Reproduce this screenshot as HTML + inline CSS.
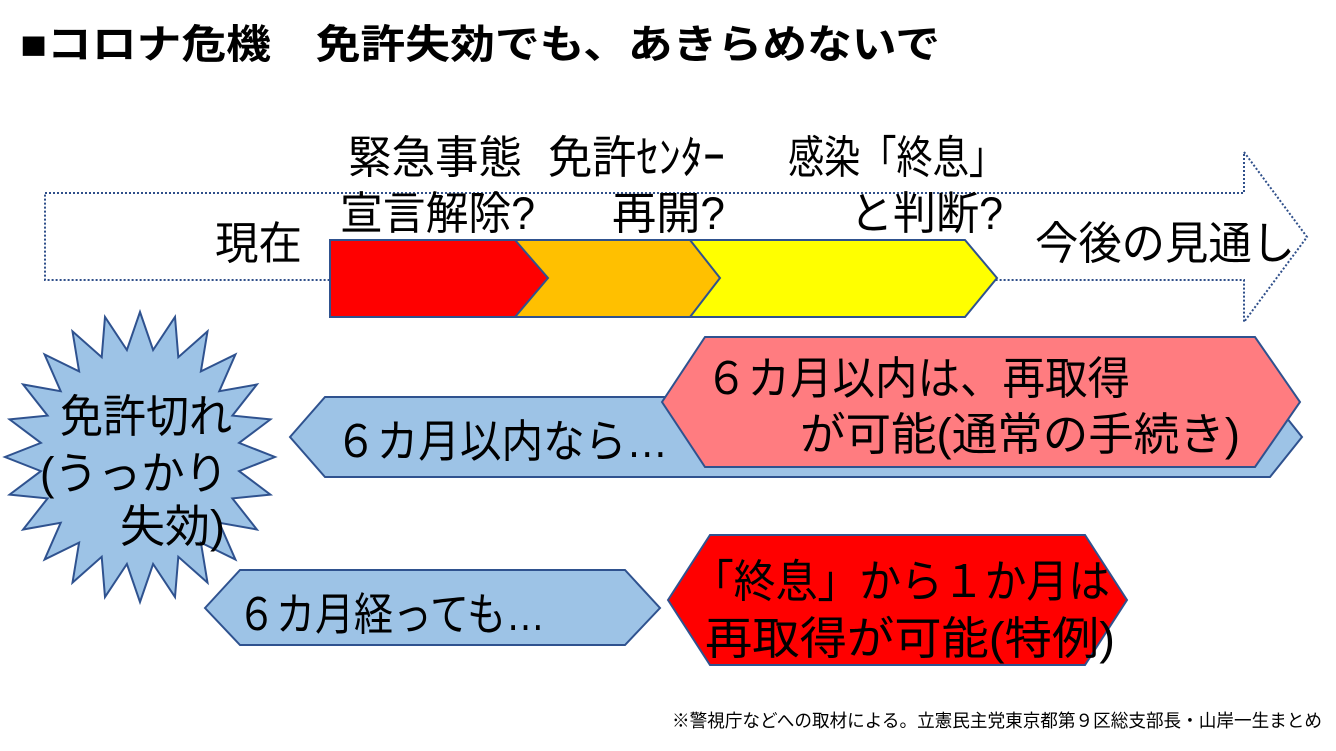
<!DOCTYPE html>
<html><head><meta charset="utf-8"><style>
html,body{margin:0;padding:0;background:#fff;}
svg{display:block;}
text{font-family:"Liberation Sans","Noto Sans CJK JP",sans-serif;fill:#000;}
</style></head><body>
<svg width="1336" height="751" viewBox="0 0 1336 751" xmlns="http://www.w3.org/2000/svg">
<rect width="1336" height="751" fill="#fff"/>
<text x="20" y="58" font-size="40" font-weight="bold" textLength="920" lengthAdjust="spacingAndGlyphs">■コロナ危機　免許失効でも、あきらめないで</text>

<polygon points="45,193 1244,193 1244,152 1307,237 1244,322 1244,280 45,280" fill="#fff" stroke="#2f4f8a" stroke-width="2" stroke-dasharray="2,2"/>

<polygon points="690,240 965,240 997,278 965,317 690,317 718,278" fill="#ffff00" stroke="#2f528f" stroke-width="2"/>
<polygon points="515,240 690,240 720,278 690,317 515,317 545,278" fill="#ffc000" stroke="#2f528f" stroke-width="2"/>
<polygon points="330,240 515,240 548,278 515,317 330,317" fill="#ff0000" stroke="#2f528f" stroke-width="2"/>

<text x="348" y="173" font-size="45" textLength="174" lengthAdjust="spacingAndGlyphs">緊急事態</text>
<text x="340" y="229" font-size="45" textLength="195" lengthAdjust="spacingAndGlyphs">宣言解除?</text>
<text x="548" y="173" font-size="45" textLength="177" lengthAdjust="spacingAndGlyphs">免許ｾﾝﾀｰ</text>
<text x="612" y="229" font-size="45" textLength="113" lengthAdjust="spacingAndGlyphs">再開?</text>
<text x="788" y="173" font-size="45" textLength="217" lengthAdjust="spacingAndGlyphs">感染「終息」</text>
<text x="850" y="229" font-size="45" textLength="153" lengthAdjust="spacingAndGlyphs">と判断?</text>
<text x="215" y="259" font-size="45" textLength="87" lengthAdjust="spacingAndGlyphs">現在</text>
<text x="1035" y="259" font-size="45" textLength="260" lengthAdjust="spacingAndGlyphs">今後の見通し</text>

<polygon points="290,437 325,397 1270,397 1302,437 1270,477 325,477" fill="#9dc3e6" stroke="#2f528f" stroke-width="2"/>
<polygon points="662,402 705,337 1255,337 1300,402 1255,467 705,467" fill="#ff7c80" stroke="#2f528f" stroke-width="2"/>
<text x="335" y="457" font-size="45" textLength="333" lengthAdjust="spacingAndGlyphs">６カ月以内なら…</text>
<text x="705" y="394" font-size="45" textLength="425" lengthAdjust="spacingAndGlyphs">６カ月以内は、再取得</text>
<text x="800" y="450" font-size="45" textLength="440" lengthAdjust="spacingAndGlyphs">が可能(通常の手続き)</text>

<polygon fill="#9dc3e6" stroke="#2f528f" stroke-width="2" points="275,457 239.1,471.1 270.4,494.6 232.4,498.4 256.9,529.5 219.3,522.8 235.4,559.5 200.9,542.6 207.5,582.6 178.3,556.8 175,597.1 153.1,564 140,602 126.9,564 105,597.1 101.7,556.8 72.5,582.6 79.1,542.6 44.6,559.5 60.7,522.8 23.1,529.5 47.6,498.4 9.6,494.6 40.9,471.1 5,457 40.9,442.9 9.6,419.4 47.6,415.6 23.1,384.5 60.7,391.2 44.6,354.5 79.1,371.4 72.5,331.4 101.7,357.2 105,316.9 126.9,350 140,312 153.1,350 175,316.9 178.3,357.2 207.5,331.4 200.9,371.4 235.4,354.5 219.3,391.2 256.9,384.5 232.4,415.6 270.4,419.4 239.1,442.9"/>
<text x="60" y="432" font-size="45" textLength="172" lengthAdjust="spacingAndGlyphs">免許切れ</text>
<text x="40" y="489" font-size="45" textLength="188" lengthAdjust="spacingAndGlyphs">(うっかり</text>
<text x="120" y="542" font-size="45" textLength="105" lengthAdjust="spacingAndGlyphs">失効)</text>

<polygon points="205,608 240,570 625,570 660,608 625,645 240,645" fill="#9dc3e6" stroke="#2f528f" stroke-width="2"/>
<polygon points="668,600 710,535 1085,535 1127,600 1085,665 710,665" fill="#ff0000" stroke="#2f528f" stroke-width="2"/>
<text x="237" y="630" font-size="45" textLength="308" lengthAdjust="spacingAndGlyphs">６カ月経っても…</text>
<text x="692" y="597" font-size="45" textLength="418" lengthAdjust="spacingAndGlyphs">「終息」から１か月は</text>
<text x="705" y="654" font-size="45" textLength="410" lengthAdjust="spacingAndGlyphs">再取得が可能(特例)</text>

<text x="672" y="727" font-size="18" textLength="650" lengthAdjust="spacingAndGlyphs">※警視庁などへの取材による。立憲民主党東京都第９区総支部長・山岸一生まとめ</text>
</svg>
</body></html>
